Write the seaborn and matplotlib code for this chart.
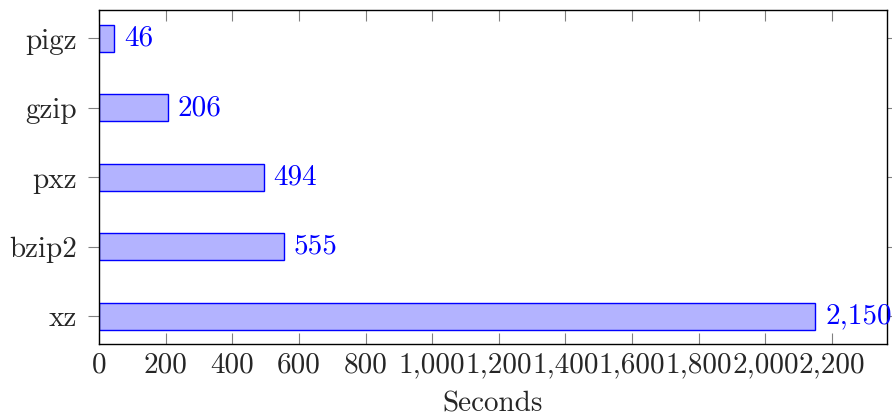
import matplotlib
matplotlib.use("Agg")
import matplotlib.pyplot as plt
import matplotlib.ticker as mticker
import pandas as pd
import seaborn as sns

# compression tools and their run times
tools = ["pigz", "gzip", "pxz", "bzip2", "xz"]
seconds = [46, 206, 494, 555, 2150]
xticks = [0, 200, 400, 600, 800, 1000, 1200, 1400, 1600, 1800, 2000, 2200]

df = pd.DataFrame({"tool": tools, "seconds": seconds})

sns.set_style("ticks")
plt.rcParams["font.family"] = ["cmr10", "DejaVu Serif"]
plt.rcParams["mathtext.fontset"] = "cm"
plt.rcParams["axes.formatter.use_mathtext"] = True

FS = 21

fig = plt.figure(figsize=(8.92, 4.19), dpi=100)
ax = fig.add_axes([99 / 892, 1 - 344 / 419, 788 / 892, 334 / 419])

sns.barplot(data=df, x="seconds", y="tool", orient="h", order=tools,
            width=0.39, color=(0.7, 0.7, 1.0), edgecolor="blue",
            linewidth=1.0, saturation=1, ax=ax)

for c in ax.containers:
    ax.bar_label(c, labels=[f"{v:,.0f}" for v in seconds], padding=7,
                 color="blue", fontsize=FS)

ax.set_xlim(0, 2365)
ax.set_ylim(4.40, -0.41)
ax.set_xticks(xticks)
ax.xaxis.set_major_formatter(mticker.FuncFormatter(lambda v, p: f"{v:,.0f}"))

ax.tick_params(axis="x", direction="in", top=True, bottom=True, length=8,
               width=0.8, color="gray", labelsize=FS, pad=6)
ax.tick_params(axis="y", direction="out", left=True, right=True, length=8,
               width=0.8, color="gray", labelsize=FS, pad=8)

for s in ax.spines.values():
    s.set_visible(True)
    s.set_color("black")
    s.set_linewidth(1.0)

ax.set_xlabel("Seconds", fontsize=FS, labelpad=9)
ax.set_ylabel("")

fig.savefig("out.png", dpi=100)
